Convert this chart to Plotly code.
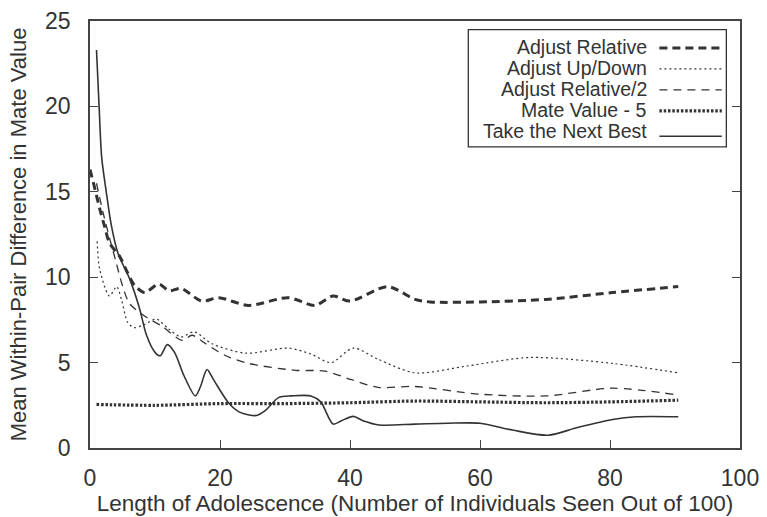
import plotly.graph_objects as go

# ---- data ----
names = ["Adjust Relative", "Adjust Up/Down", "Adjust Relative/2",
         "Mate Value - 5", "Take the Next Best"]

adj_rel_x = [0, 0.8, 1.5, 2.3, 3, 4.6, 5.6, 6.8, 8.4, 10.6, 12.2, 14, 17.2, 19.8,
             24.4, 30.5, 34.6, 37.4, 40, 45.8, 50, 52.4, 60, 70.2, 80.4, 90.5]
adj_rel_y = [16.3, 15.1, 14.0, 12.9, 12.0, 11.2, 10.4, 9.55, 9.1, 9.6, 9.2, 9.35, 8.6, 8.8,
             8.35, 8.8, 8.35, 8.9, 8.6, 9.45, 8.7, 8.55, 8.55, 8.7, 9.1, 9.45]

updown_x = [1.1, 1.5, 3, 4.1, 4.9, 5.8, 6.8, 8.2, 10.2, 12, 14, 16, 18.8, 24, 30.5, 34,
            37.1, 40.5, 44.3, 50, 58, 67.6, 80.4, 90.5]
updown_y = [12.1, 10.45, 8.9, 9.45, 8.6, 7.35, 7.05, 7.2, 7.55, 7.0, 6.5, 6.8, 6.1, 5.55,
            5.85, 5.5, 5.0, 5.85, 5.2, 4.4, 4.8, 5.3, 4.95, 4.4]

rel2_x = [1, 2, 3, 4, 5, 6.1, 8.9, 11, 14.2, 15.7, 17.8, 20.9, 24.4, 31.6, 36.2, 40.2,
          44.3, 50, 60, 70.2, 80.4, 90.5]
rel2_y = [15.5, 13.8, 12.3, 10.9, 9.5, 8.45, 7.6, 7.15, 6.3, 6.6, 6.1, 5.4, 4.95, 4.55,
          4.5, 4.0, 3.55, 3.6, 3.15, 3.05, 3.5, 3.1]

mv5_x = [1, 10, 20, 30, 40, 50, 60, 70, 80, 90.5]
mv5_y = [2.55, 2.5, 2.6, 2.6, 2.65, 2.75, 2.7, 2.65, 2.7, 2.8]

next_x = [1, 1.4, 1.8, 2.5, 3.3, 4.3, 6.1, 7.6, 8.7, 10, 10.8, 11.9, 13, 14.5, 16.2, 17,
          18, 19, 21.4, 23, 25.6, 27, 29, 31, 34, 35.5, 37.4, 38.7, 40.5, 42, 44.5, 50,
          55, 60, 65, 70.5, 75, 80.4, 84, 90.5]
next_y = [23.3, 20, 17, 15, 13, 11.4, 9.9, 8.2, 6.6, 5.6, 5.4, 6.05, 5.6, 4.2, 3.05, 3.6,
          4.6, 4.0, 2.6, 2.1, 1.9, 2.2, 2.95, 3.05, 3.05, 2.7, 1.4, 1.6, 1.85, 1.6, 1.35, 1.4,
          1.45, 1.45, 1.05, 0.75, 1.2, 1.67, 1.83, 1.83]

x_ticks = [0, 20, 40, 60, 80, 100]
y_ticks = [0, 5, 10, 15, 20, 25]

x_title = "Length of Adolescence (Number of Individuals Seen Out of 100)"
y_title = "Mean Within-Pair Difference in Mate Value"

# ---- styles ----
ink = "#333333"
FONT = "Liberation Sans, Arial, Helvetica, sans-serif"
styles = [
    dict(width=3.0, dash="8px,5px"),
    dict(width=1.2, dash="2px,3px"),
    dict(width=1.3, dash="8px,6px"),
    dict(width=3.2, dash="2.5px,1.8px"),
    dict(width=1.6, dash="solid"),
]
series = [(adj_rel_x, adj_rel_y), (updown_x, updown_y), (rel2_x, rel2_y),
          (mv5_x, mv5_y), (next_x, next_y)]

fig = go.Figure()
for name, (xs, ys), st in zip(names, series, styles):
    fig.add_trace(go.Scatter(
        x=xs, y=ys, mode="lines", name=name, showlegend=False,
        line=dict(color=ink, width=st["width"], dash=st["dash"],
                  shape="spline", smoothing=0.8),
    ))

# ---- custom legend (text right-aligned, sample on the right) ----
box_x0, box_x1 = 0.582, 0.979
box_y0, box_y1 = 0.705, 0.980
fig.add_shape(type="rect", xref="paper", yref="paper",
              x0=box_x0, x1=box_x1, y0=box_y0, y1=box_y1,
              line=dict(color=ink, width=1.3), fillcolor="white", layer="above")
row_top = 0.939
row_step = 0.0492
text_right = 0.8587
samp_x0, samp_x1 = 0.876, 0.972
for i, (name, st) in enumerate(zip(names, styles)):
    yy = row_top - i * row_step
    fig.add_annotation(xref="paper", yref="paper", x=text_right, y=yy,
                       text=name, showarrow=False, xanchor="right", yanchor="middle",
                       borderpad=0,
                       font=dict(family=FONT, size=19.5, color=ink))
    ly = yy - (0.012 if i == len(names) - 1 else 0.002)
    fig.add_shape(type="line", xref="paper", yref="paper",
                  x0=samp_x0, x1=samp_x1, y0=ly, y1=ly, layer="above",
                  line=dict(color=ink, width=st["width"], dash=st["dash"]))

fig.update_layout(
    width=767, height=517,
    margin=dict(l=90, r=19, t=8, b=62),
    plot_bgcolor="white", paper_bgcolor="white",
    font=dict(family=FONT, color=ink),
)
fig.update_xaxes(
    range=[0, 100], tickvals=x_ticks, ticktext=[str(v) for v in x_ticks],
    showgrid=False, zeroline=False, showline=True, mirror=True,
    linecolor="#444444", linewidth=1.5,
    ticks="inside", ticklen=8, tickwidth=1.3, tickcolor="#444444",
    ticklabelstandoff=9, ticklabeloverflow="allow",
    tickfont=dict(family=FONT, size=23, color=ink),
    title=dict(text=x_title, font=dict(family=FONT, size=22.5, color=ink), standoff=2),
)
fig.update_yaxes(
    range=[0, 25], tickvals=y_ticks, ticktext=[str(v) for v in y_ticks],
    showgrid=False, zeroline=False, showline=True, mirror="ticks",
    linecolor="#444444", linewidth=1.5,
    ticks="inside", ticklen=8, tickwidth=1.3, tickcolor="#444444",
    ticklabelstandoff=13, ticklabeloverflow="allow",
    tickfont=dict(family=FONT, size=23, color=ink),
    title=dict(text=y_title, font=dict(family=FONT, size=22, color=ink), standoff=12),
)

fig.write_html("out.html")
